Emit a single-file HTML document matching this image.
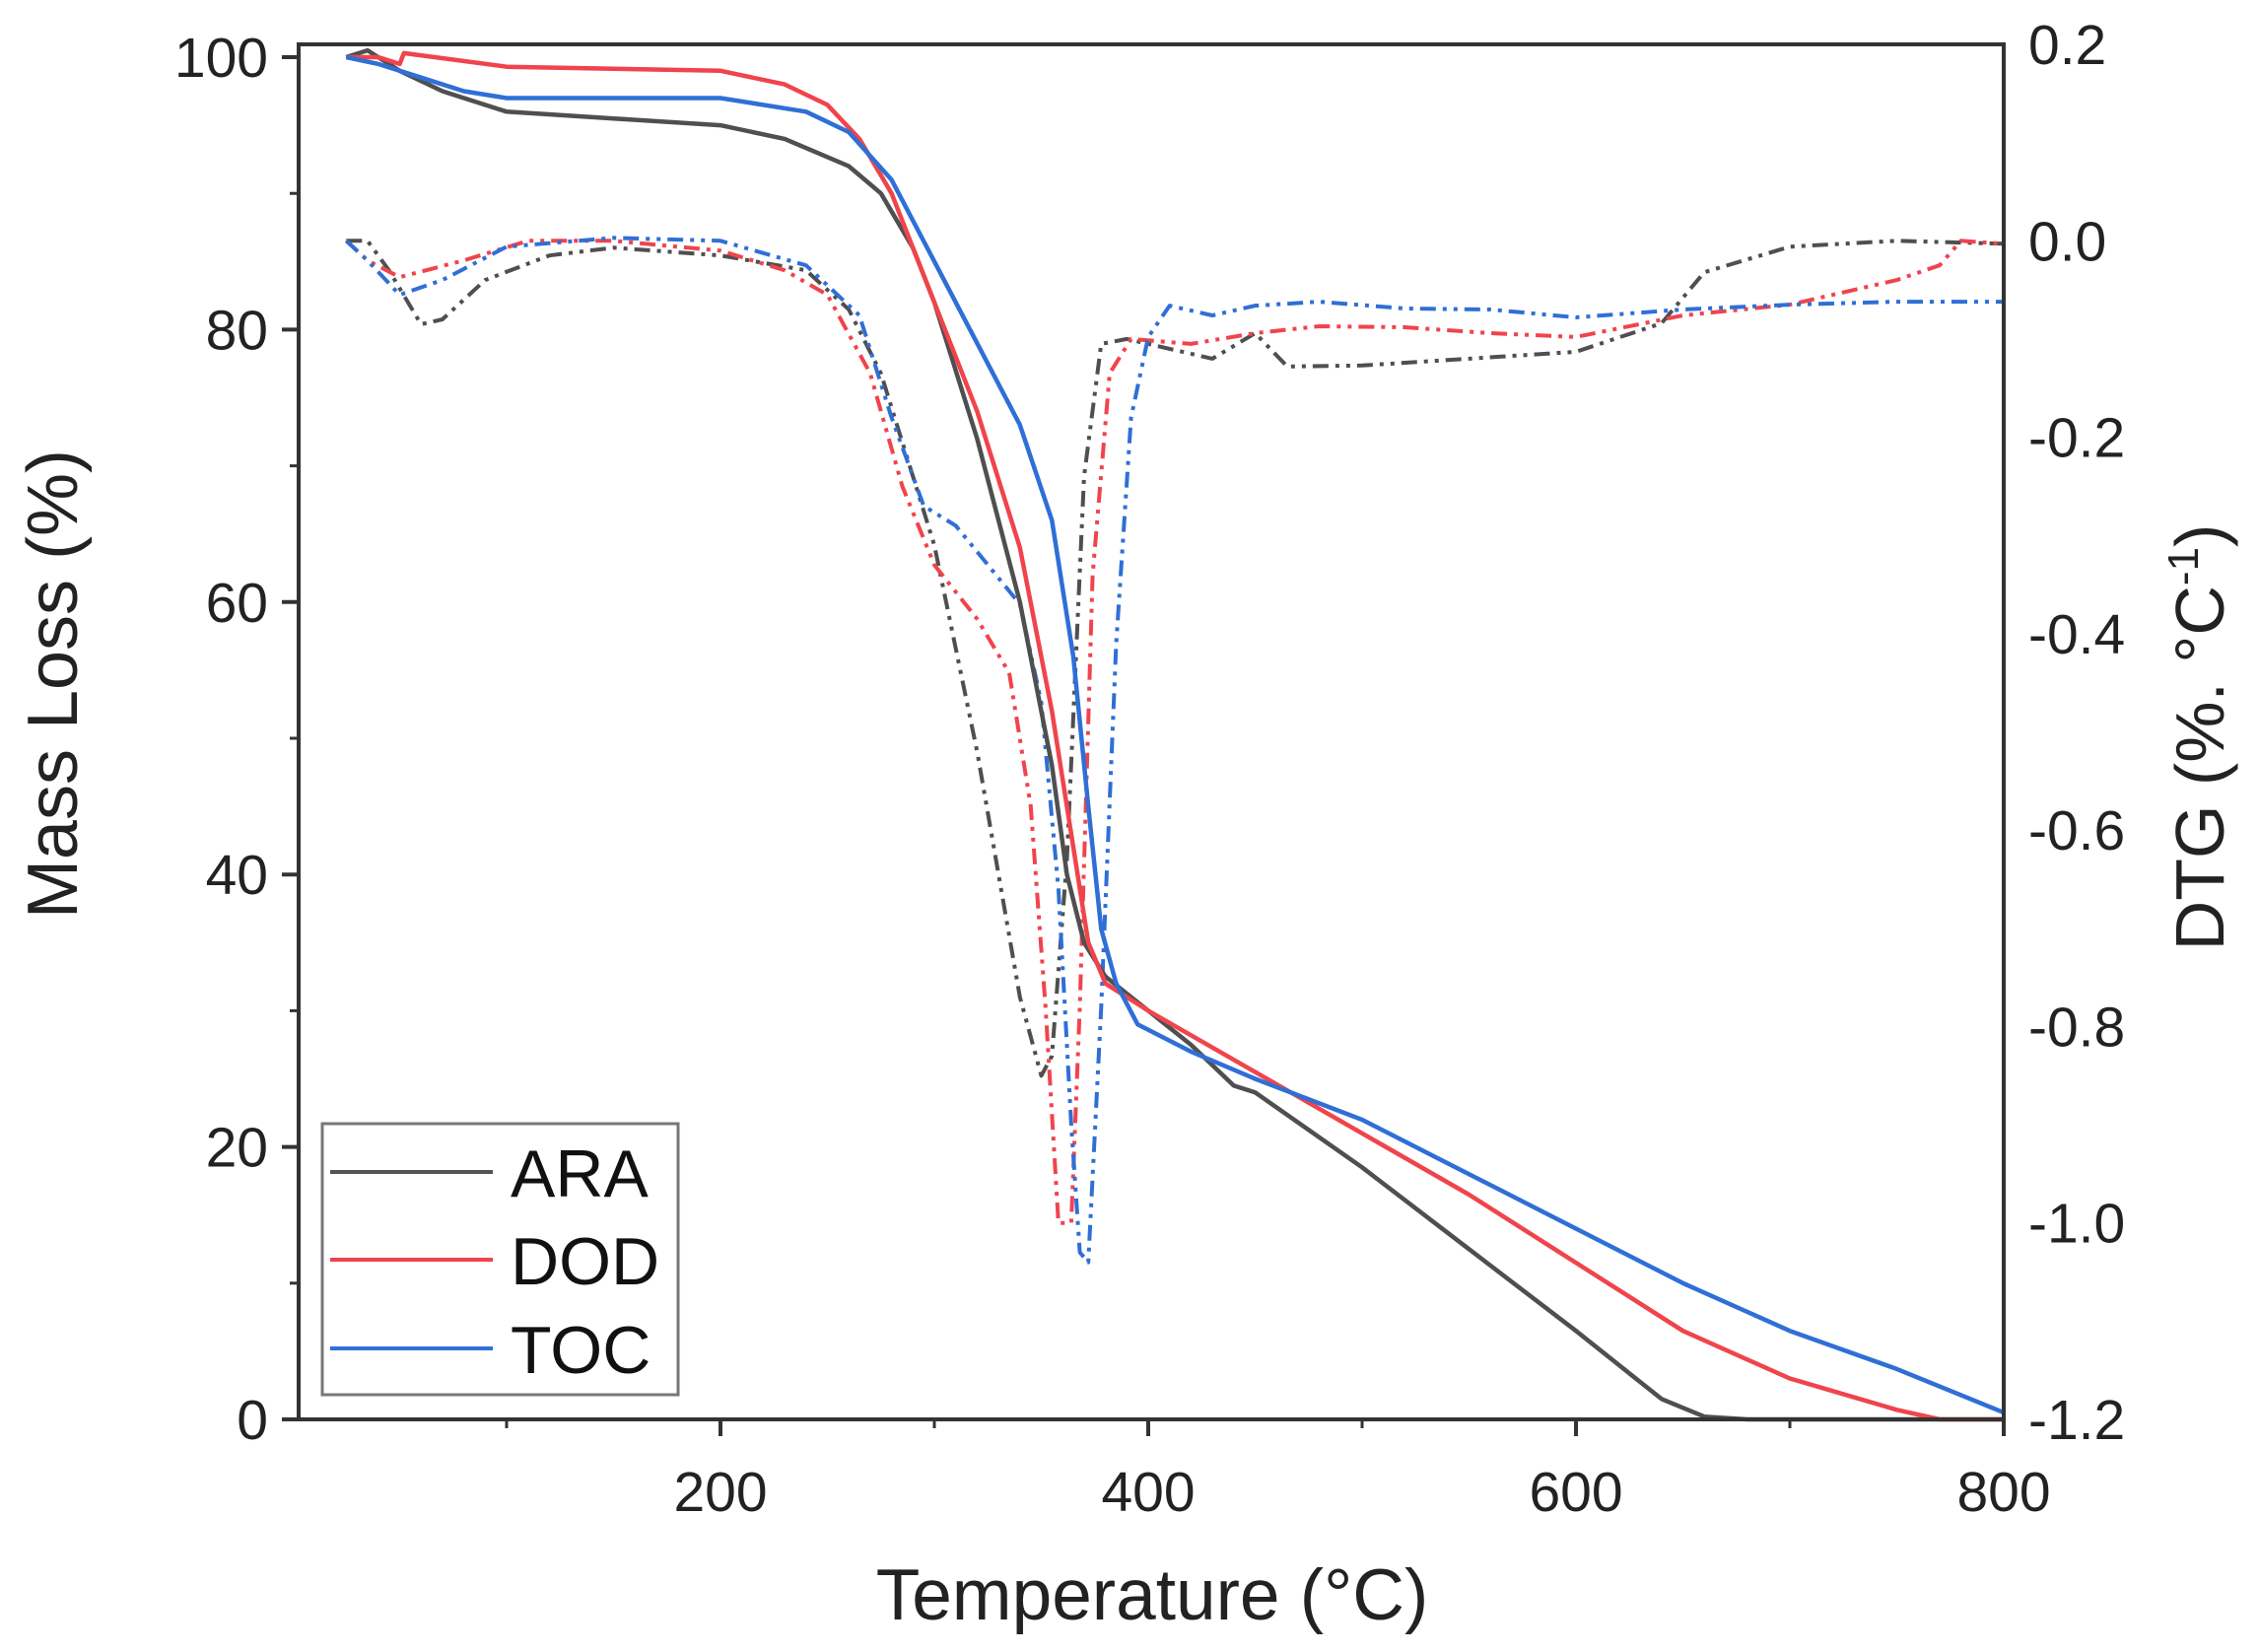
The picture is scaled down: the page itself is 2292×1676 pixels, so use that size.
<!DOCTYPE html>
<html><head><meta charset="utf-8"><style>
html,body{margin:0;padding:0;background:#fff;}
svg{display:block;font-family:"Liberation Sans",Arial,sans-serif;}
</style></head><body>
<svg id="chart" width="2292" height="1676" viewBox="0 0 2292 1676" xmlns="http://www.w3.org/2000/svg">
<g id="marks"></g>
<g id="axes"></g>
<g>
  <rect x="327" y="1140" width="361" height="275" fill="#fff" stroke="#777" stroke-width="3"/>
  <line x1="335" y1="1189" x2="500" y2="1189" stroke="#555" stroke-width="4"/>
  <text x="518" y="1214" font-size="68" fill="#111">ARA</text>
  <line x1="335" y1="1278" x2="500" y2="1278" stroke="#f0444c" stroke-width="4"/>
  <text x="518" y="1303" font-size="68" fill="#111">DOD</text>
  <line x1="335" y1="1368" x2="500" y2="1368" stroke="#2f6fd6" stroke-width="4"/>
  <text x="518" y="1393" font-size="68" fill="#111">TOC</text>
</g>
<text transform="translate(78,694) rotate(-90)" text-anchor="middle" font-size="72" fill="#222">Mass Loss (%)</text>
<text transform="translate(2256,748) rotate(-90)" text-anchor="middle" font-size="70" fill="#222">DTG (%. °C<tspan font-size="44" dy="-26">-1</tspan><tspan dy="26">)</tspan></text>
<text x="1169" y="1643" text-anchor="middle" font-size="73" fill="#222">Temperature (°C)</text>
</svg>
<script>
const xTicks=[200,400,600,800];
const xMinor=[100,300,500,700];
const yTicks=[0,20,40,60,80,100];
const yMinor=[10,30,50,70,90];
const y2Ticks=[0.2,0.0,-0.2,-0.4,-0.6,-0.8,-1.0,-1.2];
const series=["ARA","DOD","TOC"];
const colors={ARA:"#4f4f4f",DOD:"#f0444c",TOC:"#2f6fd6"};
const araT=[25,35,50,70,100,150,200,230,260,275,290,300,320,340,355,362,370,380,400,420,440,450,500,550,600,640,660,680,800];
const araM=[100,100.5,99,97.5,96,95.5,95,94,92,90,86,82,72,60,48,40,35,32.5,30,27.5,24.5,24,18.5,12.5,6.5,1.5,0.2,0,0];
const dodT=[25,40,50,52,100,200,230,250,265,280,300,320,340,355,365,372,380,400,450,500,550,600,650,700,750,770,800];
const dodM=[100,100,99.5,100.3,99.3,99,98,96.5,94,90,82,74,64,52,42,35,32,30,25.5,21,16.5,11.5,6.5,3,0.7,0,0];
const tocT=[25,40,60,80,100,200,240,260,280,300,320,340,355,365,372,378,385,395,420,450,500,550,600,650,700,750,800];
const tocM=[100,99.5,98.5,97.5,97,97,96,94.5,91,85,79,73,66,56,45,36,32,29,27,25,22,18,14,10,6.5,3.7,0.5];
const araDT=[25,35,45,60,70,90,120,150,200,240,260,275,290,300,320,340,350,355,362,370,378,390,410,430,450,465,500,550,600,640,660,700,750,800];
const araD=[0,0,-0.03,-0.085,-0.08,-0.04,-0.015,-0.007,-0.015,-0.03,-0.07,-0.135,-0.24,-0.31,-0.52,-0.77,-0.85,-0.83,-0.63,-0.24,-0.105,-0.1,-0.11,-0.12,-0.094,-0.128,-0.127,-0.12,-0.113,-0.084,-0.032,-0.006,0,-0.003];
const dodDT=[25,35,50,80,110,150,200,230,250,270,285,300,320,335,345,352,358,364,368,374,382,392,420,450,480,520,560,600,650,700,750,770,780,800];
const dodD=[0,-0.02,-0.037,-0.02,0,0,-0.01,-0.03,-0.055,-0.135,-0.25,-0.33,-0.385,-0.44,-0.575,-0.78,-1.0,-1.0,-0.78,-0.34,-0.135,-0.1,-0.105,-0.094,-0.087,-0.088,-0.094,-0.098,-0.076,-0.065,-0.04,-0.025,0,-0.003];
const tocDT=[25,35,50,70,100,150,200,240,265,280,295,310,325,340,350,358,364,368,372,378,385,392,400,410,430,450,480,520,560,600,650,700,750,800];
const tocD=[0,-0.02,-0.055,-0.04,-0.006,0.003,0,-0.025,-0.076,-0.18,-0.27,-0.29,-0.33,-0.37,-0.47,-0.66,-0.9,-1.03,-1.04,-0.78,-0.41,-0.18,-0.098,-0.066,-0.076,-0.066,-0.062,-0.069,-0.07,-0.078,-0.07,-0.065,-0.062,-0.062];

const L=297,R=2033,T=45,B=1440;
const xs=t=>L+(t/800)*(R-L);
const ys=m=>1440-(m/100)*(1440-58);
const y2s=d=>T+(0.2-d)/1.4*(B-T);
const NS="http://www.w3.org/2000/svg";
function mk(tag,attrs,parent){const e=document.createElementNS(NS,tag);for(const k in attrs)e.setAttribute(k,attrs[k]);parent.appendChild(e);return e;}
const marks=document.getElementById('marks'), axes=document.getElementById('axes');
function path(tx,vy,fy){return tx.map((t,i)=>(i?"L":"M")+xs(t).toFixed(1)+","+fy(vy[i]).toFixed(1)).join(" ");}
const dtg={ARA:[araDT,araD],DOD:[dodDT,dodD],TOC:[tocDT,tocD]};
const mass={ARA:[araT,araM],DOD:[dodT,dodM],TOC:[tocT,tocM]};
series.forEach(s=>{
  const p=mk('path',{d:path(dtg[s][0],dtg[s][1],y2s),fill:"none",stroke:colors[s],"stroke-width":4,"stroke-dasharray":"16 7 4 7 4 7","stroke-linejoin":"round"},marks);
  
  
});
series.forEach(s=>{
  const p=mk('path',{d:path(mass[s][0],mass[s][1],ys),fill:"none",stroke:colors[s],"stroke-width":4.5,"stroke-linejoin":"round"},marks);
  
  
});
const fr=mk('rect',{x:303,y:T,width:R-303,height:B-T,fill:"none",stroke:"#333","stroke-width":4},axes);


yTicks.forEach(v=>{
  const l=mk('line',{x1:286,x2:303,y1:ys(v),y2:ys(v),stroke:"#333","stroke-width":4},axes);
  
  
  const t=mk('text',{x:272,y:ys(v)+20,"text-anchor":"end","font-size":57,fill:"#222"},axes);
  t.textContent=v;
  
  
});
yMinor.forEach(v=>{
  const l=mk('line',{x1:294,x2:303,y1:ys(v),y2:ys(v),stroke:"#333","stroke-width":3},axes);
  
  
});
xTicks.forEach(v=>{
  const l=mk('line',{x1:xs(v),x2:xs(v),y1:B,y2:B+17,stroke:"#333","stroke-width":4},axes);
  
  
  const t=mk('text',{x:xs(v),y:1533,"text-anchor":"middle","font-size":57,fill:"#222"},axes);
  t.textContent=v;
  
  
});
xMinor.forEach(v=>{
  const l=mk('line',{x1:xs(v),x2:xs(v),y1:B,y2:B+9,stroke:"#333","stroke-width":3},axes);
  
  
});
y2Ticks.forEach(v=>{
  const t=mk('text',{x:2058,y:y2s(v)+20,"font-size":57,fill:"#222"},axes);
  t.textContent=v.toFixed(1);
  
  
});
</script>
</body></html>
